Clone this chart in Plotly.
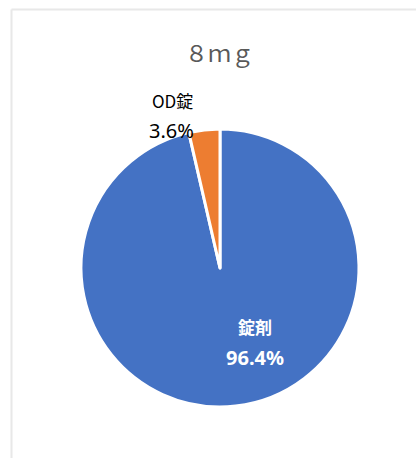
import plotly.graph_objects as go

categories = ["錠剤", "OD錠"]
values = [96.4, 3.6]
colors = ["#4472C4", "#ED7D31"]
title_text = "８ｍｇ"

W, H = 416, 458
cx, cy, r = 220, 268, 139

fig = go.Figure()
fig.add_trace(go.Pie(
    labels=categories,
    values=values,
    sort=False,
    direction="clockwise",
    rotation=0,
    marker=dict(colors=colors, line=dict(color="white", width=3)),
    textinfo="none",
    hoverinfo="label+percent",
    showlegend=False,
    domain=dict(x=[(cx - r) / W, (cx + r) / W], y=[(H - cy - r) / H, (H - cy + r) / H]),
))

# Border of the chart area
fig.add_shape(type="line", xref="paper", yref="paper",
              x0=11.5 / W, x1=1.02, y0=1 - 9.5 / H, y1=1 - 9.5 / H,
              line=dict(color="#e8e8e8", width=2))
fig.add_shape(type="line", xref="paper", yref="paper",
              x0=11.5 / W, x1=11.5 / W, y0=1 - 9.5 / H, y1=-0.02,
              line=dict(color="#e8e8e8", width=2))

font_jp = "Noto Sans CJK JP, Noto Sans, sans-serif"
font_lat = "Noto Sans, Noto Sans CJK JP, sans-serif"

fig.add_annotation(text=title_text, xref="paper", yref="paper",
                   x=219 / W, y=1 - 52 / H, showarrow=False,
                   xanchor="center", yanchor="middle",
                   font=dict(family=font_jp, size=23, color="#595959"))

# Data labels
fig.add_annotation(text=f"<b>{categories[0]}</b>", xref="paper", yref="paper",
                   x=255 / W, y=1 - 326 / H, showarrow=False,
                   xanchor="center", yanchor="middle",
                   font=dict(family=font_jp, size=17, color="white"))
fig.add_annotation(text=f"<b>{values[0]:.1f}%</b>", xref="paper", yref="paper",
                   x=255 / W, y=1 - 357 / H, showarrow=False,
                   xanchor="center", yanchor="middle",
                   font=dict(family=font_lat, size=20, color="white"))
fig.add_annotation(text=categories[1], xref="paper", yref="paper",
                   x=172 / W, y=1 - 100 / H, showarrow=False,
                   xanchor="center", yanchor="middle",
                   font=dict(family=font_jp, size=17, color="#000000"))
fig.add_annotation(text=f"{values[1]:.1f}%", xref="paper", yref="paper",
                   x=171.5 / W, y=1 - 130 / H, showarrow=False,
                   xanchor="center", yanchor="middle",
                   font=dict(family=font_lat, size=20, color="#000000"))

fig.update_layout(
    width=W, height=H,
    margin=dict(l=0, r=0, t=0, b=0),
    paper_bgcolor="white",
    plot_bgcolor="white",
)

fig.write_html("out.html")
